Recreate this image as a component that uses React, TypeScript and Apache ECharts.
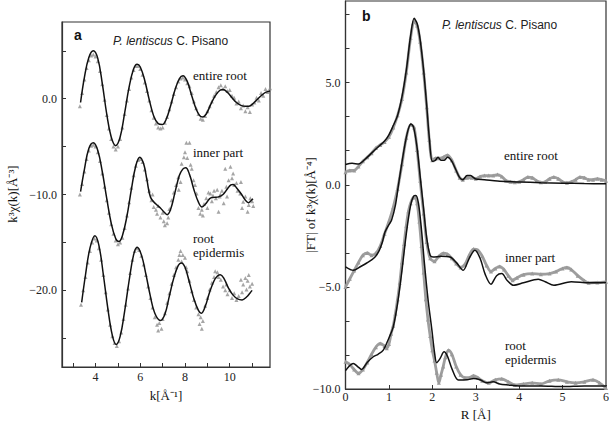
import React, { useEffect, useRef } from "react";
import * as echarts from "echarts";

// ---------- Panel a : k^3 chi(k) ----------
const rootFitA: [number, number][] = [
  [3.33, -0.4], [3.5, 2.2], [3.7, 4.3], [3.9, 5.0], [4.1, 4.2], [4.3, 1.6], [4.5, -1.6], [4.7, -4.0], [4.9, -4.9],
  [5.1, -4.0], [5.3, -1.5], [5.5, 1.2], [5.7, 3.1], [5.86, 3.6], [6.0, 3.3], [6.2, 1.9], [6.4, -0.1], [6.6, -1.8],
  [6.8, -2.6], [6.98, -2.7], [7.15, -2.2], [7.35, -0.8], [7.55, 0.9], [7.75, 2.1], [7.91, 2.4], [8.1, 1.8], [8.3, 0.3],
  [8.5, -1.1], [8.65, -1.75], [8.79, -1.9], [8.95, -1.6], [9.15, -0.6], [9.35, 0.3], [9.55, 0.85], [9.7, 0.95],
  [9.9, 0.65], [10.1, 0.1], [10.3, -0.4], [10.5, -0.7], [10.7, -0.8], [10.84, -0.8], [11.0, -0.6], [11.2, -0.15],
  [11.4, 0.3], [11.6, 0.65], [11.8, 0.8],
];
const rootDataA: [number, number][] = [
  [3.3, -0.8], [3.4, 0.6], [3.5, 2.0], [3.6, 3.2], [3.7, 4.0], [3.8, 4.5], [3.9, 4.6], [4.0, 4.4], [4.1, 3.9], [4.2, 2.9],
  [4.3, 1.5], [4.4, -0.1], [4.5, -1.7], [4.6, -3.1], [4.7, -4.2], [4.8, -5.0], [4.9, -5.3], [5.0, -5.0], [5.1, -4.2],
  [5.2, -3.0], [5.3, -1.6], [5.4, -0.2], [5.5, 1.0], [5.6, 2.2], [5.7, 3.0], [5.8, 3.4], [5.9, 3.4], [6.0, 3.1],
  [6.1, 2.5], [6.2, 1.7], [6.3, 0.8], [6.4, -0.2], [6.5, -1.2], [6.6, -2.0], [6.7, -2.6], [6.8, -3.0], [6.9, -3.1],
  [7.0, -3.0], [7.1, -2.5], [7.2, -1.9], [7.3, -1.1], [7.4, -0.3], [7.5, 0.5], [7.6, 1.2], [7.7, 1.8], [7.8, 2.1],
  [7.9, 2.2], [8.0, 2.0], [8.1, 1.6], [8.2, 1.3], [8.3, 0.6], [8.4, -0.3], [8.5, -1.0], [8.6, -1.6], [8.7, -2.1],
  [8.8, -2.2], [8.9, -1.8], [9.0, -1.3], [9.1, -0.8], [9.2, -0.3], [9.3, 0.3], [9.4, 0.7], [9.5, 1.2], [9.6, 1.4],
  [9.7, 1.0], [9.8, 1.3], [9.9, 0.8], [10.0, 0.9], [10.1, 0.3], [10.2, 0.1], [10.3, -0.5], [10.4, -0.3], [10.5, -1.0],
  [10.6, -0.7], [10.7, -1.3], [10.8, -0.9], [10.9, -1.4], [11.0, -0.6], [11.1, -0.4], [11.2, 0.1], [11.3, -0.2],
  [11.4, 0.6], [11.5, 0.3], [11.6, 1.0], [11.7, 0.7], [11.8, 1.1],
];
const innerFitA: [number, number][] = [
  [3.33, -9.7], [3.5, -7.4], [3.7, -5.2], [3.9, -4.6], [4.1, -5.4], [4.3, -7.6], [4.5, -10.4], [4.7, -13.0], [4.9, -14.6],
  [5.04, -14.9], [5.2, -14.3], [5.4, -12.3], [5.6, -9.5], [5.8, -7.0], [5.98, -6.1], [6.15, -6.8], [6.3, -8.5],
  [6.46, -10.3], [6.7, -11.0], [6.9, -11.4], [7.05, -11.8], [7.2, -12.1], [7.35, -11.6], [7.55, -9.8], [7.75, -8.0],
  [7.9, -7.35], [8.03, -7.2], [8.2, -7.9], [8.4, -9.5], [8.6, -10.8], [8.76, -11.3], [8.95, -10.9], [9.15, -10.35],
  [9.3, -10.3], [9.5, -10.25], [9.7, -10.0], [9.9, -9.4], [10.05, -9.0], [10.15, -8.95], [10.3, -9.3], [10.5, -9.9],
  [10.7, -10.6], [10.84, -10.85], [10.95, -10.65], [11.04, -10.45],
];
const innerDataA: [number, number][] = [
  [3.3, -10.0], [3.4, -8.9], [3.5, -7.6], [3.6, -6.3], [3.7, -5.4], [3.8, -4.9], [3.9, -4.8], [4.0, -5.0], [4.1, -5.6],
  [4.2, -6.5], [4.3, -7.8], [4.4, -9.2], [4.5, -10.6], [4.6, -11.9], [4.7, -13.1], [4.8, -14.1], [4.9, -14.8],
  [5.0, -15.2], [5.1, -15.0], [5.2, -14.5], [5.3, -13.5], [5.4, -12.2], [5.5, -10.8], [5.6, -9.3], [5.7, -8.0],
  [5.8, -7.0], [5.9, -6.4], [6.0, -6.3], [6.1, -6.6], [6.2, -7.4], [6.3, -8.4], [6.4, -9.6], [6.5, -10.6], [6.55, -10.0],
  [6.6, -11.3], [6.7, -11.6], [6.75, -12.0], [6.8, -11.2], [6.9, -12.4], [7.0, -11.9], [7.05, -12.8], [7.1, -13.2],
  [7.2, -13.0], [7.25, -12.4], [7.3, -11.5], [7.4, -10.6], [7.5, -9.8], [7.6, -9.0], [7.7, -8.2], [7.72, -9.5],
  [7.8, -8.7], [7.85, -6.8], [7.95, -6.1], [8.0, -5.6], [8.06, -4.6], [8.1, -6.2], [8.2, -4.6], [8.25, -6.9],
  [8.3, -7.3], [8.38, -8.5], [8.45, -9.0], [8.52, -9.9], [8.6, -11.4], [8.68, -12.0], [8.75, -11.6], [8.8, -12.2],
  [8.85, -11.0], [8.95, -10.4], [9.0, -11.4], [9.05, -9.8], [9.13, -9.9], [9.2, -10.7], [9.25, -10.1], [9.3, -9.6],
  [9.38, -10.4], [9.44, -9.5], [9.5, -11.8], [9.55, -10.2], [9.58, -10.0], [9.65, -9.6], [9.73, -10.9], [9.8, -7.3],
  [9.85, -9.2], [9.88, -10.2], [9.95, -8.5], [10.03, -7.1], [10.1, -8.3], [10.15, -7.8], [10.2, -9.0], [10.3, -8.8],
  [10.35, -9.6], [10.47, -9.9], [10.5, -8.7], [10.55, -11.4], [10.6, -10.75], [10.7, -10.2], [10.8, -11.8],
  [10.85, -11.1], [10.92, -10.4], [11.0, -10.7], [11.05, -11.2],
];
const epiFitA: [number, number][] = [
  [3.38, -21.25], [3.55, -18.4], [3.75, -15.6], [3.97, -14.3], [4.15, -15.3], [4.35, -18.4], [4.55, -21.9],
  [4.75, -24.7], [4.92, -25.65], [5.1, -24.8], [5.3, -22.2], [5.5, -19.0], [5.7, -16.3], [5.86, -15.5], [6.05, -16.3],
  [6.25, -18.3], [6.45, -20.6], [6.65, -22.4], [6.9, -23.15], [7.1, -22.5], [7.3, -20.6], [7.5, -18.7], [7.7, -17.4],
  [7.84, -17.15], [8.0, -17.6], [8.2, -19.2], [8.4, -20.9], [8.6, -22.1], [8.72, -22.4], [8.9, -21.7], [9.1, -20.2],
  [9.3, -19.0], [9.45, -18.5], [9.58, -18.37], [9.75, -18.8], [9.95, -19.8], [10.15, -20.5], [10.35, -20.9],
  [10.55, -21.0], [10.75, -20.7], [10.9, -20.3], [11.0, -20.0],
];
const epiDataA: [number, number][] = [
  [3.35, -21.5], [3.45, -20.0], [3.55, -18.6], [3.65, -17.1], [3.75, -15.9], [3.85, -15.0], [3.95, -14.6],
  [4.05, -14.8], [4.15, -15.6], [4.25, -16.8], [4.35, -18.4], [4.45, -20.2], [4.55, -22.0], [4.65, -23.6],
  [4.75, -24.8], [4.85, -25.5], [4.95, -25.8], [5.05, -25.3], [5.15, -24.4], [5.25, -23.0], [5.35, -21.5],
  [5.45, -19.8], [5.55, -18.2], [5.65, -16.8], [5.75, -15.9], [5.85, -15.6], [5.95, -15.8], [6.05, -16.4],
  [6.15, -17.3], [6.25, -18.4], [6.35, -19.6], [6.45, -20.8], [6.55, -21.8], [6.65, -22.8], [6.75, -23.6],
  [6.8, -24.2], [6.85, -23.4], [6.95, -24.0], [7.0, -23.0], [7.1, -22.4], [7.2, -21.3], [7.3, -20.3], [7.4, -19.3],
  [7.5, -18.4], [7.6, -17.6], [7.7, -16.8], [7.75, -16.3], [7.8, -15.9], [7.85, -17.0], [7.9, -16.3], [8.0, -16.6],
  [8.05, -17.6], [8.1, -18.0], [8.2, -19.0], [8.3, -20.1], [8.4, -21.0], [8.5, -21.8], [8.6, -22.5], [8.65, -23.5],
  [8.7, -22.8], [8.75, -24.0], [8.8, -23.2], [8.9, -21.6], [9.0, -20.8], [9.1, -19.9], [9.2, -19.2], [9.3, -18.6],
  [9.35, -18.0], [9.45, -18.1], [9.5, -18.6], [9.6, -18.9], [9.7, -19.6], [9.8, -20.0], [9.85, -19.4], [9.9, -20.4],
  [10.0, -20.0], [10.1, -20.8], [10.2, -20.3], [10.3, -21.0], [10.4, -20.6], [10.5, -18.9], [10.55, -20.2],
  [10.6, -19.4], [10.7, -18.7], [10.75, -19.9], [10.8, -19.0], [10.85, -18.4], [10.9, -19.6], [11.0, -19.3],
];

// ---------- Panel b : |FT| ----------
const rootFitB: [number, number][] = [
  [0, 0.99], [0.15, 1.05], [0.3, 1.02], [0.45, 1.25], [0.6, 1.55], [0.75, 1.85], [0.9, 2.15], [1.0, 2.45], [1.1, 2.9],
  [1.2, 3.4], [1.3, 4.3], [1.4, 5.6], [1.5, 7.3], [1.58, 8.15], [1.65, 7.9], [1.72, 7.1], [1.8, 5.6], [1.87, 3.9],
  [1.93, 2.3], [2.0, 1.15], [2.07, 1.2], [2.13, 1.35], [2.2, 1.2], [2.27, 1.2], [2.35, 1.35], [2.45, 1.15], [2.55, 0.7],
  [2.63, 0.35], [2.7, 0.25], [2.8, 0.45], [2.88, 0.45], [3.0, 0.28], [3.2, 0.25], [3.5, 0.18], [4.0, 0.14], [4.5, 0.1],
  [5.0, 0.08], [5.5, 0.06], [6.0, 0.05],
];
const rootDataB: [number, number][] = [
  [0, 0.62], [0.1, 0.7], [0.2, 0.7], [0.3, 0.9], [0.4, 1.15], [0.5, 1.35], [0.6, 1.55], [0.7, 1.8], [0.8, 1.95],
  [0.9, 2.1], [1.0, 2.35], [1.1, 2.8], [1.2, 3.4], [1.3, 4.2], [1.4, 5.5], [1.5, 7.2], [1.58, 8.0], [1.65, 7.8],
  [1.72, 7.0], [1.8, 5.5], [1.87, 3.8], [1.93, 2.2], [2.0, 1.2], [2.07, 1.3], [2.15, 1.3], [2.25, 1.35], [2.35, 1.45],
  [2.45, 1.2], [2.55, 0.7], [2.63, 0.35], [2.7, 0.25], [2.8, 0.35], [2.9, 0.35], [3.0, 0.3], [3.1, 0.4], [3.2, 0.45],
  [3.3, 0.45], [3.4, 0.45], [3.5, 0.5], [3.6, 0.4], [3.7, 0.2], [3.8, 0.15], [3.9, 0.12], [4.0, 0.15], [4.1, 0.25],
  [4.2, 0.38], [4.3, 0.35], [4.4, 0.2], [4.5, 0.12], [4.6, 0.15], [4.7, 0.3], [4.8, 0.38], [4.9, 0.3], [5.0, 0.15],
  [5.1, 0.1], [5.2, 0.15], [5.3, 0.25], [5.4, 0.38], [5.5, 0.35], [5.6, 0.25], [5.7, 0.25], [5.8, 0.3], [5.9, 0.25],
  [6.0, 0.2],
];
const innerFitB: [number, number][] = [
  [0, -4.02], [0.18, -4.19], [0.35, -4.0], [0.49, -3.83], [0.65, -3.6], [0.76, -3.29], [0.85, -2.8], [0.91, -2.31],
  [1.0, -1.95], [1.06, -1.74], [1.15, -1.0], [1.22, 0.0], [1.3, 1.1], [1.38, 2.1], [1.45, 2.75], [1.51, 2.98],
  [1.57, 2.8], [1.65, 1.8], [1.72, 0.4], [1.8, -1.2], [1.87, -2.6], [1.95, -3.45], [2.02, -3.54], [2.2, -3.5],
  [2.41, -3.54], [2.55, -3.8], [2.71, -4.19], [2.85, -3.6], [2.98, -3.21], [3.1, -3.6], [3.22, -4.4], [3.35, -4.87],
  [3.48, -4.45], [3.6, -4.35], [3.73, -4.7], [3.87, -4.92], [4.1, -4.8], [4.44, -4.63], [4.6, -4.75], [4.8, -4.92],
  [5.2, -4.75], [5.6, -4.8], [6.0, -4.78],
];
const innerDataB: [number, number][] = [
  [0, -5.0], [0.1, -4.6], [0.2, -4.2], [0.3, -3.8], [0.4, -3.45], [0.5, -3.34], [0.6, -3.45], [0.7, -3.35], [0.8, -3.0],
  [0.9, -2.4], [1.0, -1.8], [1.1, -1.1], [1.2, -0.2], [1.3, 1.0], [1.4, 2.3], [1.5, 2.95], [1.58, 2.8], [1.65, 1.7],
  [1.72, 0.2], [1.8, -1.4], [1.87, -2.8], [1.95, -3.6], [2.05, -3.75], [2.15, -3.5], [2.25, -3.35], [2.35, -3.4],
  [2.45, -3.6], [2.55, -3.85], [2.65, -4.05], [2.75, -3.9], [2.85, -3.45], [2.95, -3.15], [3.05, -3.2], [3.15, -3.5],
  [3.25, -3.95], [3.35, -4.25], [3.45, -4.1], [3.55, -4.0], [3.65, -4.15], [3.75, -4.45], [3.85, -4.67],
  [3.95, -4.55], [4.1, -4.4], [4.3, -4.35], [4.5, -4.38], [4.7, -4.35], [4.85, -4.25], [5.0, -4.1], [5.1, -4.05],
  [5.2, -4.15], [5.35, -4.45], [5.5, -4.7], [5.6, -4.8], [5.8, -4.78], [6.0, -4.75],
];
const epiFitB: [number, number][] = [
  [0, -9.1], [0.1, -8.85], [0.18, -8.75], [0.28, -8.9], [0.37, -9.04], [0.5, -8.7], [0.64, -8.42], [0.75, -8.3],
  [0.87, -8.1], [1.0, -7.5], [1.1, -6.96], [1.2, -5.8], [1.3, -4.2], [1.4, -2.4], [1.5, -1.0], [1.57, -0.55],
  [1.62, -0.52], [1.68, -0.9], [1.75, -2.2], [1.82, -3.9], [1.9, -5.6], [1.99, -7.12], [2.05, -8.2], [2.1, -8.71],
  [2.18, -8.5], [2.27, -8.18], [2.35, -8.4], [2.45, -9.0], [2.6, -9.56], [2.8, -9.55], [2.95, -9.48], [3.1, -9.55],
  [3.25, -9.7], [3.4, -9.65], [3.55, -9.75], [3.75, -9.8], [4.0, -9.85], [4.5, -9.85], [5.0, -9.88], [5.5, -9.85],
  [6.0, -9.85],
];
const epiDataB: [number, number][] = [
  [0, -8.67], [0.1, -8.8], [0.2, -9.05], [0.3, -9.23], [0.4, -9.05], [0.5, -8.7], [0.6, -8.3], [0.7, -7.95],
  [0.8, -7.77], [0.9, -7.9], [0.95, -8.0], [1.0, -7.8], [1.05, -7.3], [1.1, -6.9], [1.15, -6.3], [1.2, -5.6],
  [1.25, -4.8], [1.3, -3.8], [1.35, -2.9], [1.4, -2.0], [1.45, -1.3], [1.5, -0.9], [1.55, -0.65], [1.6, -0.6],
  [1.65, -0.9], [1.7, -1.8], [1.75, -3.0], [1.8, -4.3], [1.85, -5.6], [1.9, -6.6], [1.95, -7.4], [2.0, -8.1],
  [2.05, -8.6], [2.1, -9.2], [2.15, -9.7], [2.2, -9.3], [2.25, -8.9], [2.3, -8.45], [2.37, -8.1], [2.45, -8.3],
  [2.55, -8.9], [2.65, -9.3], [2.75, -9.45], [2.85, -9.45], [2.95, -9.35], [3.05, -9.45], [3.15, -9.6], [3.3, -9.7],
  [3.45, -9.55], [3.6, -9.5], [3.75, -9.65], [3.9, -9.8], [4.1, -9.75], [4.3, -9.7], [4.5, -9.75], [4.7, -9.6],
  [4.9, -9.55], [5.1, -9.65], [5.3, -9.7], [5.5, -9.65], [5.7, -9.55], [5.85, -9.7], [6.0, -9.95],
];

// ---------- ticks ----------
const aXTicks = [3, 4, 5, 6, 7, 8, 9, 10, 11];
const aXLabels = [4, 6, 8, 10];
const aYTicks = [-25, -20, -15, -10, -5, 0, 5];
const aYLabels = [-20, -10, 0];
const bXTicks = [0, 1, 2, 3, 4, 5, 6];
const bYTicks = [-10, -8.333, -6.667, -5, -3.333, -1.667, 0, 1.667, 3.333, 5, 6.667, 8.333];
const bYLabels = [-10, -5, 0, 5];

const serif = "Liberation Serif, Times New Roman, serif";
const sans = "Liberation Sans, Arial, sans-serif";
const AX = "#333";
const GREY = "#8f8f8f";
const fmt1 = (v: number) => v.toFixed(1).replace("-", "\u2212");

function axis(grid: number, min: number, max: number, ticks: number[], labels: number[], f: (v: number) => string, margin: number) {
  return {
    gridIndex: grid,
    type: "value",
    min,
    max,
    axisLine: { show: true, onZero: false, lineStyle: { color: AX, width: 1.2 } },
    axisTick: { show: true, inside: true, length: 4, customValues: ticks, lineStyle: { color: AX, width: 1 } },
    axisLabel: { customValues: labels, formatter: f, margin, color: "#222", fontFamily: serif, fontSize: 12 },
    splitLine: { show: false },
  };
}

export default function App() {
  const ref = useRef<HTMLDivElement>(null);
  useEffect(() => {
    const chart = echarts.init(ref.current!, null, { renderer: "svg" });
    const fit = (x: number, data: [number, number][], smooth = 0.4) => ({
      type: "line", xAxisIndex: x, yAxisIndex: x, data, smooth, showSymbol: false, z: 3,
      lineStyle: { color: "#111", width: 1.5 },
    });
    const scat = (x: number, data: [number, number][]) => ({
      type: "scatter", xAxisIndex: x, yAxisIndex: x, data, symbol: "triangle", symbolSize: 4, z: 2,
      itemStyle: { color: GREY },
    });
    const band = (x: number, data: [number, number][]) => ({
      type: "line", xAxisIndex: x, yAxisIndex: x, data, smooth: 0.3, showSymbol: true, symbol: "triangle", symbolSize: 4, z: 2,
      itemStyle: { color: "#999" }, lineStyle: { color: "#9e9e9e", width: 2.8 },
    });
    const label = (text: string, x: number, y: number) => ({
      type: "text", x, y,
      style: { text, fill: "#111", font: `13px ${serif}`, textVerticalAlign: "middle" },
    });
    const title = (x: number, y: number) => ({
      type: "text", x, y,
      style: {
        text: "{i|P. lentiscus} {n|C. Pisano}",
        textVerticalAlign: "middle",
        rich: {
          i: { fontFamily: sans, fontStyle: "italic", fontSize: 12, fill: "#222" },
          n: { fontFamily: sans, fontSize: 12, fill: "#222" },
        },
      },
    });
    chart.setOption({
      animation: false,
      backgroundColor: "#fff",
      textStyle: { fontFamily: serif },
      grid: [
        { left: 62, top: 22, width: 208, height: 345, show: true, borderColor: AX, borderWidth: 1.2, outerBoundsMode: "none" },
        { left: 345.5, top: 1, width: 260.5, height: 388, show: true, borderColor: AX, borderWidth: 1.2, outerBoundsMode: "none" },
      ],
      xAxis: [
        { ...axis(0, 2.5, 11.8, aXTicks, aXLabels, (v: number) => String(v), 4),
          name: "k[Å\u207B\u00B9]", nameLocation: "middle", nameGap: 22,
          nameTextStyle: { fontFamily: serif, fontSize: 13, color: "#111" } },
        { ...axis(1, 0, 6, bXTicks, bXTicks, (v: number) => String(v), 2),
          name: "R [Å]", nameLocation: "middle", nameGap: 18,
          nameTextStyle: { fontFamily: serif, fontSize: 13, color: "#111" } },
      ],
      yAxis: [
        axis(0, -28, 8, aYTicks, aYLabels, fmt1, 5),
        axis(1, -10, 9, bYTicks, bYLabels, fmt1, 5),
      ],
      series: [
        scat(0, rootDataA), scat(0, innerDataA), scat(0, epiDataA),
        fit(0, rootFitA), fit(0, innerFitA), fit(0, epiFitA),
        band(1, rootDataB), band(1, innerDataB), band(1, epiDataB),
        fit(1, rootFitB, 0.3), fit(1, innerFitB, 0.3), fit(1, epiFitB, 0.3),
      ],
      graphic: [
        { type: "text", x: 74, y: 35, style: { text: "a", font: `bold 14px ${sans}`, fill: "#111", textVerticalAlign: "middle" } },
        { type: "text", x: 362, y: 16, style: { text: "b", font: `bold 14px ${sans}`, fill: "#111", textVerticalAlign: "middle" } },
        title(113, 41),
        title(442, 25),
        label("entire root", 193, 75),
        label("inner part", 193, 152),
        label("root", 193, 238),
        label("epidermis", 193, 252),
        label("entire root", 504, 155),
        label("inner part", 505, 257),
        label("root", 505, 345),
        label("epidermis", 505, 359),
        { type: "text", x: 12, y: 194, rotation: Math.PI / 2,
          style: { text: "k\u00B3\u03C7(k)[Å\u207B\u00B3]", font: `13px ${serif}`, fill: "#111", textAlign: "center", textVerticalAlign: "middle" } },
        { type: "text", x: 310, y: 205, rotation: Math.PI / 2,
          style: { text: "|FT| of k\u00B3\u03C7(k)[Å\u207B\u2074]", font: `13px ${serif}`, fill: "#111", textAlign: "center", textVerticalAlign: "middle" } },
      ],
    });
    return () => chart.dispose();
  }, []);
  return <div ref={ref} style={{ position: "fixed", left: 0, top: 0, width: 609, height: 421, background: "#fff" }} />;
}
